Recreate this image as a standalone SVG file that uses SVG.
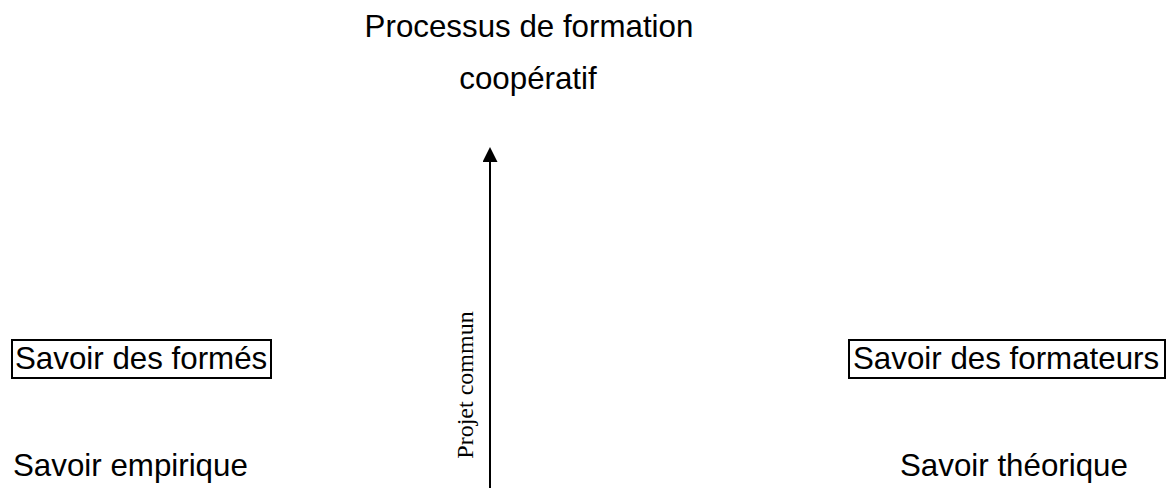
<svg xmlns="http://www.w3.org/2000/svg" width="1166" height="488" viewBox="0 0 1166 488">
<style>
.t{font-family:"Liberation Sans",Arial,sans-serif;font-size:31.3px;fill:#000}
.box{fill:none;stroke:#000;stroke-width:2}
.lbl{font-family:"Liberation Serif","Times New Roman",serif;font-size:24px;fill:#000}
</style>
<defs>
<marker id="ah" markerWidth="15" markerHeight="15" refX="0" refY="7.5" orient="auto" markerUnits="userSpaceOnUse" viewBox="0 0 15 15">
<path d="M0,0 L15,7.5 L0,15 Z" fill="#000"/>
</marker>
</defs>
<rect width="1166" height="488" fill="#fff"/>
<g id="title">
<text class="t" x="529" y="37" text-anchor="middle">Processus de formation</text>
<text class="t" x="528" y="89" text-anchor="middle">coopératif</text>
</g>
<g id="formes">
<rect class="box" x="12" y="340" width="259" height="38"/>
<text class="t" x="15" y="369">Savoir des formés</text>
</g>
<g id="formateurs">
<rect class="box" x="849" y="340" width="316" height="38"/>
<text class="t" x="853" y="369">Savoir des formateurs</text>
</g>
<g id="empirique">
<text class="t" x="13" y="476">Savoir empirique</text>
</g>
<g id="theorique">
<text class="t" x="900" y="476">Savoir théorique</text>
</g>
<g id="connectors">
<line x1="490" y1="488" x2="490" y2="162" stroke="#000" stroke-width="2" marker-end="url(#ah)"/>
<text class="lbl" transform="translate(473,385) rotate(-90)" text-anchor="middle">Projet commun</text>
</g>
</svg>
